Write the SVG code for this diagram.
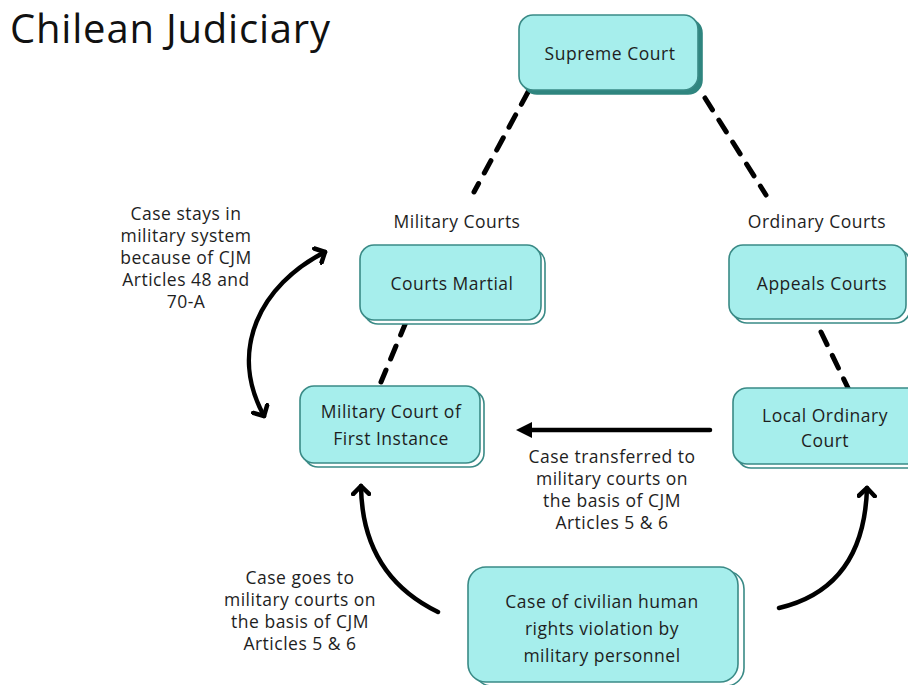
<svg xmlns="http://www.w3.org/2000/svg" width="908" height="685" viewBox="0 0 908 685">
<defs>
<style>
text{font-family:"Open Sans","Liberation Sans",sans-serif;fill:#1e1e1e;text-anchor:middle;font-weight:500;letter-spacing:0.5px;}
.t{font-size:17.5px;}
.lbl{font-size:17.5px;}
.box{fill:#a6eeec;stroke:#3a8a86;stroke-width:1.6;}
.sh{fill:#ffffff;stroke:#3a8a86;stroke-width:1.6;}
.shd{fill:#2f857f;stroke:#2f857f;stroke-width:1.6;}
.dash{fill:none;stroke:#000;stroke-width:5;stroke-dasharray:14 12;stroke-linecap:round;}
.arr{fill:none;stroke:#000;stroke-width:4.5;stroke-linecap:round;}
</style>
<marker id="open" viewBox="0 0 20 20" refX="10" refY="10" markerWidth="20" markerHeight="20" markerUnits="userSpaceOnUse" orient="auto-start-reverse">
<path d="M2,2 L10,10 L2,18" fill="none" stroke="#000" stroke-width="4.5" stroke-linecap="round" stroke-linejoin="round"/>
</marker>
<marker id="solid" viewBox="0 0 20 20" refX="4" refY="10" markerWidth="20" markerHeight="20" markerUnits="userSpaceOnUse" orient="auto">
<path d="M0,2 L16,10 L0,18 Z" fill="#000"/>
</marker>
</defs>
<rect width="908" height="685" fill="#ffffff"/>
<text x="10" y="43" style="font-size:40px;text-anchor:start;fill:#111;letter-spacing:0.8px">Chilean Judiciary</text>

<g id="connectors">
<path class="dash" d="M528,92 L474,192"/>
<path class="dash" d="M705,98 L766,195"/>
<path class="dash" d="M406,322 L381,382"/>
<path class="dash" d="M821,332 L849,390"/>
<path class="arr" d="M710,430 L528,430" marker-end="url(#solid)"/>
<path class="arr" d="M325,252 C260,285 228,350 264,416" marker-start="url(#open)" marker-end="url(#open)"/>
<path class="arr" d="M438,612 Q362,575 361,486" marker-end="url(#open)"/>
<path class="arr" d="M779,608 Q864,588 867,488" marker-end="url(#open)"/>
</g>

<g id="supreme-court">
<rect class="shd" x="523" y="19" width="179" height="75" rx="14"/>
<rect class="box" x="519" y="15" width="179" height="75" rx="14"/>
<text class="t" x="610" y="60">Supreme Court</text>
</g>
<g id="courts-martial">
<rect class="sh" x="364" y="249" width="181" height="75" rx="14"/>
<rect class="box" x="360" y="245" width="181" height="75" rx="14"/>
<text class="t" x="452" y="290">Courts Martial</text>
</g>
<g id="appeals-courts">
<rect class="sh" x="733" y="249" width="177" height="74" rx="14"/>
<rect class="box" x="729" y="245" width="177" height="74" rx="14"/>
<text class="t" x="822" y="290">Appeals Courts</text>
</g>
<g id="military-first-instance">
<rect class="sh" x="304" y="390" width="180" height="77" rx="14"/>
<rect class="box" x="300" y="386" width="180" height="77" rx="14"/>
<text class="t" x="391" y="418">Military Court of</text>
<text class="t" x="391" y="445">First Instance</text>
</g>
<g id="local-ordinary-court">
<rect class="sh" x="737" y="392" width="190" height="76" rx="14"/>
<rect class="box" x="733" y="388" width="190" height="76" rx="14"/>
<text class="t" x="825" y="422">Local Ordinary</text>
<text class="t" x="825" y="447">Court</text>
</g>
<g id="case-civilian">
<rect class="sh" x="474" y="571" width="270" height="115" rx="18"/>
<rect class="box" x="468" y="567" width="270" height="115" rx="18"/>
<text class="t" x="602" y="608">Case of civilian human</text>
<text class="t" x="602" y="635">rights violation by</text>
<text class="t" x="602" y="662">military personnel</text>
</g>

<g id="labels">
<text class="lbl" x="457" y="228">Military Courts</text>
<text class="lbl" x="817" y="228">Ordinary Courts</text>
<text class="lbl" x="186" y="220">Case stays in</text>
<text class="lbl" x="186" y="242">military system</text>
<text class="lbl" x="186" y="264">because of CJM</text>
<text class="lbl" x="186" y="286">Articles 48 and</text>
<text class="lbl" x="186" y="308">70-A</text>
<text class="lbl" x="612" y="463">Case transferred to</text>
<text class="lbl" x="612" y="485">military courts on</text>
<text class="lbl" x="612" y="507">the basis of CJM</text>
<text class="lbl" x="612" y="529">Articles 5 &amp; 6</text>
<text class="lbl" x="300" y="584">Case goes to</text>
<text class="lbl" x="300" y="606">military courts on</text>
<text class="lbl" x="300" y="628">the basis of CJM</text>
<text class="lbl" x="300" y="650">Articles 5 &amp; 6</text>
</g>
</svg>
